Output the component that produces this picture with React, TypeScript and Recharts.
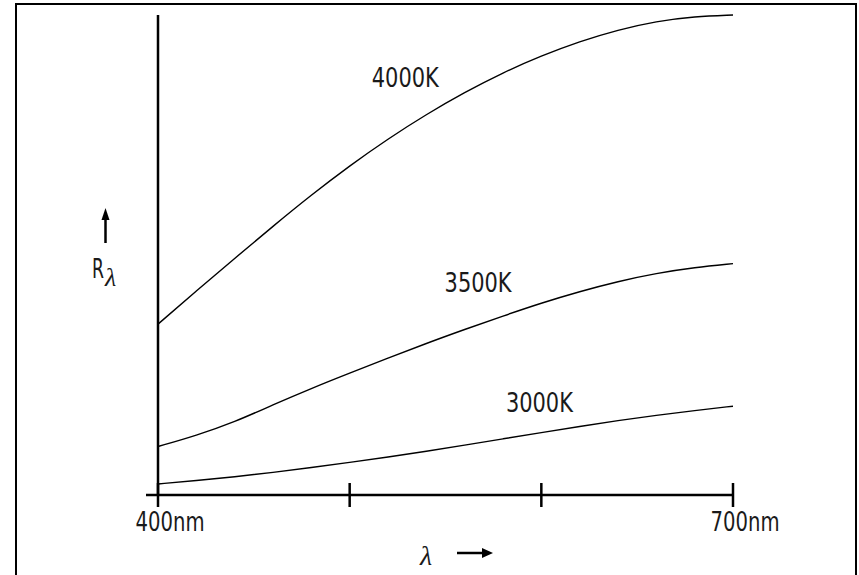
import React from 'react';
import { LineChart, Line, XAxis, YAxis, ReferenceDot } from 'recharts';

// wavelength in nm
const wavelengths = [400, 420, 440, 460, 480, 500, 520, 540, 560, 580, 600, 620, 640, 660, 680, 700];

// relative spectral values
const k4000 = [35.6, 42.5, 49.3, 56.0, 62.5, 68.6, 74.2, 79.3, 83.9, 88.0, 91.5, 94.5, 96.9, 98.7, 99.7, 100];
const k3500 = [10.1, 12.4, 15.2, 18.8, 22.2, 25.4, 28.5, 31.6, 34.5, 37.3, 40.0, 42.4, 44.5, 46.2, 47.4, 48.2];
const k3000 = [2.3, 3.0, 3.8, 4.7, 5.7, 6.8, 7.9, 9.1, 10.4, 11.7, 13.0, 14.3, 15.5, 16.6, 17.6, 18.5];

const xTicks = [400, 500, 600, 700];
const xTickLabels: Record<number, string> = { 400: '400nm', 700: '700nm' };

const curveNames = ['4000K', '3500K', '3000K'];
const curveLabelNm = [529, 567, 599];
const curveLabelVal = [87, 44.4, 19.4];

const data = wavelengths.map((nm, i) => ({
  nm,
  k4000: k4000[i],
  k3500: k3500[i],
  k3000: k3000[i],
}));

const FONT = "'Liberation Sans Narrow', 'DejaVu Sans Condensed', 'Roboto', sans-serif";
const SERIF = "'Liberation Serif', serif";
const INK = '#1a1a1a';

// condensed text: squeeze glyphs to the width seen in the reference
const Narrow = ({ x, y, w, size, anchor, children }: any) => (
  <text
    x={anchor === 'middle' ? x - w / 2 : x}
    y={y}
    fontFamily={FONT}
    fontSize={size}
    fill={INK}
    textLength={w}
    lengthAdjust="spacingAndGlyphs"
  >
    {children}
  </text>
);

const XTick = (props: any) => {
  const { x, y, payload, index } = props;
  const label = xTickLabels[payload.value];
  return (
    <g>
      <line x1={x} x2={x} y1={y - 12} y2={y + 12} stroke="#000" strokeWidth={2.5} />
      {index === 0 && <line x1={x - 12} x2={x} y1={y} y2={y} stroke="#000" strokeWidth={2.5} />}
      {label && (
        <Narrow x={x + 12} y={y + 36} w={69} size={27} anchor="middle">
          {label}
        </Narrow>
      )}
    </g>
  );
};

const CurveLabel = (props: any) => {
  const { viewBox, value } = props;
  const cx = viewBox.x + (viewBox.width || 0) / 2;
  const cy = viewBox.y + (viewBox.height || 0) / 2;
  return (
    <Narrow x={cx} y={cy + 10} w={67} size={27} anchor="middle">
      {value}
    </Narrow>
  );
};

const XLabel = (props: any) => {
  const { x, y } = props.viewBox;
  const lx = x + 268;
  const ly = y + 70;
  return (
    <g>
      <text x={lx} y={ly} textAnchor="middle" fontFamily={SERIF} fontStyle="italic" fontSize={28} fill={INK}>
        λ
      </text>
      <line x1={lx + 31} x2={lx + 58} y1={ly - 12} y2={ly - 12} stroke="#000" strokeWidth={2.5} />
      <polygon points={`${lx + 56},${ly - 17} ${lx + 67},${ly - 12} ${lx + 56},${ly - 7}`} fill="#000" />
    </g>
  );
};

const YLabel = (props: any) => {
  const { x, y } = props.viewBox;
  const ax = x - 51.5;
  return (
    <g>
      <line x1={ax} x2={ax} y1={y + 203} y2={y + 228} stroke="#000" strokeWidth={2.5} />
      <polygon points={`${ax - 4},${y + 205} ${ax},${y + 193} ${ax + 4},${y + 205}`} fill="#000" />
      <text x={x - 65} y={y + 263} fontFamily={FONT} fontSize={27} fill={INK}>
        <tspan textLength={12} lengthAdjust="spacingAndGlyphs">R</tspan>
        <tspan dx={1} dy={8} fontFamily={SERIF} fontStyle="italic" fontSize={26}>
          λ
        </tspan>
      </text>
    </g>
  );
};

export default function App() {
  return (
    <div style={{ position: 'absolute', left: 0, top: 0, width: 859, height: 575, background: '#fff' }}>
      <div
        style={{
          position: 'absolute',
          left: 15,
          top: 3,
          width: 842,
          height: 572,
          boxSizing: 'border-box',
          borderTop: '2px solid #000',
          borderLeft: '2px solid #000',
          borderRight: '2px solid #000',
        }}
      />
      <div style={{ position: 'absolute', left: 0, top: 0 }}>
        <LineChart width={859} height={575} data={data} margin={{ top: 15, right: 126, bottom: 79, left: 157 }}>
          <XAxis
            dataKey="nm"
            type="number"
            domain={[400, 700]}
            ticks={xTicks}
            height={1}
            tickSize={0}
            tickMargin={0}
            tickLine={false}
            tick={<XTick />}
            axisLine={{ stroke: '#000', strokeWidth: 2.5 }}
            label={<XLabel />}
            interval={0}
          />
          <YAxis
            type="number"
            domain={[0, 100]}
            width={1}
            tick={false}
            tickLine={false}
            axisLine={{ stroke: '#000', strokeWidth: 2.5 }}
            label={<YLabel />}
          />
          <Line type="basis" dataKey="k4000" stroke="#000" strokeWidth={1.4} dot={false} isAnimationActive={false} />
          <Line type="basis" dataKey="k3500" stroke="#000" strokeWidth={1.4} dot={false} isAnimationActive={false} />
          <Line type="basis" dataKey="k3000" stroke="#000" strokeWidth={1.4} dot={false} isAnimationActive={false} />
          {curveNames.map((name, i) => (
            <ReferenceDot
              key={name}
              x={curveLabelNm[i]}
              y={curveLabelVal[i]}
              r={0}
              fill="none"
              stroke="none"
              label={<CurveLabel value={name} />}
            />
          ))}
        </LineChart>
      </div>
    </div>
  );
}
